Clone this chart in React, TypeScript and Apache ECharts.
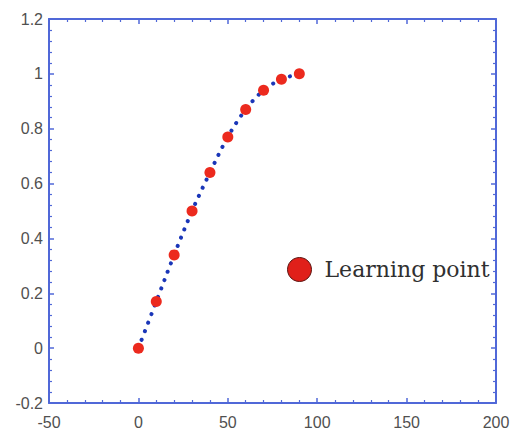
import React, { useEffect, useRef } from "react";
import * as echarts from "echarts";

// Learning points (angle in degrees vs. normalised response)
const learnX: number[] = [0, 10, 20, 30, 40, 50, 60, 70, 80, 90];
const learnY: number[] = [0, 0.17, 0.34, 0.5, 0.64, 0.77, 0.87, 0.94, 0.98, 1.0];

const legendLabel = "Learning point";

const axisBlue = "#5068d8";
const labelGrey = "#505050";

function baseAxis(showLabel: boolean, margin: number) {
  return {
    axisLine: { show: true, onZero: false, lineStyle: { color: axisBlue, width: 2 } },
    axisTick: { show: true, inside: true, length: 5, lineStyle: { color: axisBlue, width: 1.5 } },
    minorTick: { show: true, length: 3, lineStyle: { color: axisBlue, width: 1.2 } },
    splitLine: { show: false },
    axisLabel: {
      show: showLabel,
      color: labelGrey,
      fontSize: 16,
      fontFamily: "Liberation Sans, Arial, sans-serif",
      margin,
    },
  };
}

export default function App() {
  const ref = useRef<HTMLDivElement>(null);

  useEffect(() => {
    if (!ref.current) return;
    const chart = echarts.init(ref.current, undefined, { renderer: "svg" });
    const pts = learnX.map((x, i) => [x, learnY[i]]);

    chart.setOption({
      animation: false,
      backgroundColor: "#ffffff",
      grid: { left: 49, right: 17, top: 19, bottom: 29, outerBoundsMode: "none" },
      xAxis: [
        {
          type: "value",
          position: "bottom",
          min: -50,
          max: 200,
          interval: 50,
          minorTick: { splitNumber: 5 },
          ...baseAxis(true, 11),
        },
        {
          type: "value",
          position: "top",
          min: -50,
          max: 200,
          interval: 50,
          ...baseAxis(false, 8),
        },
      ],
      yAxis: [
        {
          type: "value",
          position: "left",
          min: -0.2,
          max: 1.2,
          interval: 0.2,
          ...baseAxis(true, 6),
        },
        {
          type: "value",
          position: "right",
          min: -0.2,
          max: 1.2,
          interval: 0.2,
          ...baseAxis(false, 8),
        },
      ],
      legend: {
        left: 282,
        top: 252,
        itemWidth: 28,
        itemHeight: 24,
        data: [
          {
            name: legendLabel,
            icon: "circle",
            itemStyle: { color: "#e0201a", borderColor: "#5a1410", borderWidth: 1 },
          },
        ],
        textStyle: {
          fontFamily: "DejaVu Serif, serif",
          fontSize: 22,
          color: "#303030",
          padding: [12, 0, 0, 6],
        },
      },
      series: [
        {
          name: "curve",
          type: "line",
          data: pts,
          smooth: 0.35,
          showSymbol: false,
          lineStyle: { color: "#1a36b8", width: 4, type: [0.1, 9], cap: "round" },
          z: 2,
        },
        {
          name: legendLabel,
          type: "scatter",
          data: pts,
          symbolSize: 11,
          itemStyle: { color: "#ec2a1e", opacity: 1 },
          z: 3,
        },
      ],
    });

    return () => chart.dispose();
  }, []);

  return (
    <div
      ref={ref}
      style={{ position: "fixed", left: 0, top: 0, width: 513, height: 432, background: "#fff" }}
    />
  );
}
